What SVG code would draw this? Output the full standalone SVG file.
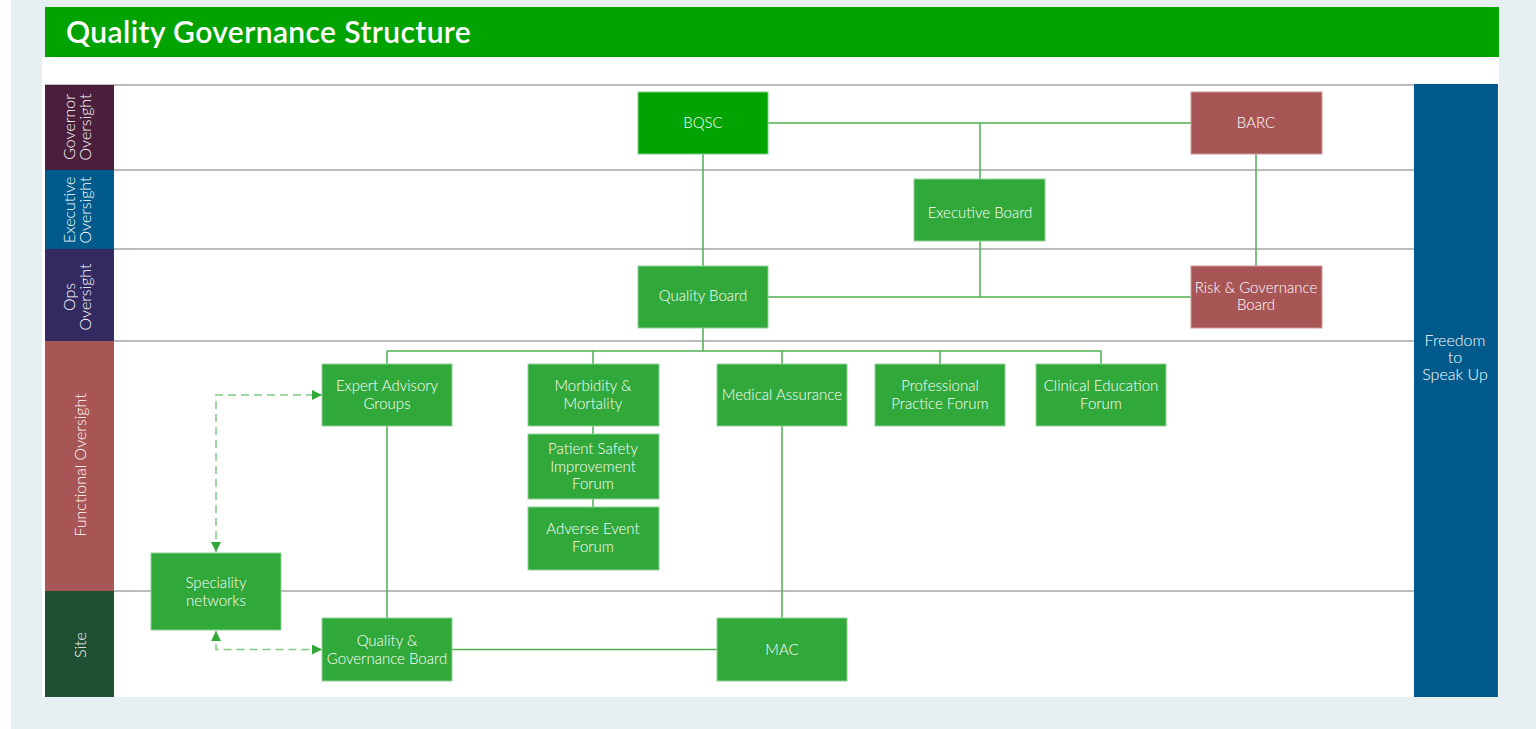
<svg xmlns="http://www.w3.org/2000/svg" width="1540" height="729" viewBox="0 0 1540 729">
<style>
.box{fill:#31A83A;stroke:#8FD296;stroke-width:1}
.bq{fill:#00A300;stroke:#7FCF86;stroke-width:1}
.red{fill:#A85556;stroke:#D09A9B;stroke-width:1}
.t{font-family:Lato,"Noto Sans","Liberation Sans",sans-serif;font-size:15px;font-weight:300;fill:#FFFFFF;text-anchor:middle}
.l{font-size:16px}
.lane{stroke:#A6A6A6;stroke-width:1.5;fill:none}
.con{stroke:#4CB052;stroke-width:1.5;fill:none}
.dash{stroke:#7DCB85;stroke-width:1.5;fill:none;stroke-dasharray:8 5}
</style>
<defs>
<marker id="ah" viewBox="0 0 10 10" refX="10" refY="5" markerWidth="10" markerHeight="10" markerUnits="userSpaceOnUse" orient="auto-start-reverse">
<path d="M0,0 L10,5 L0,10 Z" fill="#31A83A"/>
</marker>
</defs>
<rect x="0" y="0" width="1540" height="729" fill="#FFFFFF"/>
<rect x="11" y="0" width="1525" height="729" fill="#E6EFF1"/>
<rect x="42" y="57" width="1457" height="640" fill="#FFFFFF"/>
<g id="title">
<rect x="45" y="7" width="1454" height="50" fill="#00A300"/>
<text x="66" y="43" style="font-family:Lato,'Noto Sans','Liberation Sans',sans-serif;font-size:30px;font-weight:600;letter-spacing:0.4px;fill:#FFFFFF">Quality Governance Structure</text>
</g>
<g id="lane-lines">
<line class="lane" x1="45" y1="85" x2="1414" y2="85"/>
<line class="lane" x1="45" y1="170" x2="1414" y2="170"/>
<line class="lane" x1="45" y1="249" x2="1414" y2="249"/>
<line class="lane" x1="45" y1="341" x2="1414" y2="341"/>
<line class="lane" x1="45" y1="591" x2="1414" y2="591"/>
</g>
<g id="lane-governor">
<rect x="45" y="85" width="69" height="85" fill="#4B1E3C"/>
<text class="t l" transform="translate(75,127) rotate(-90)">Governor</text>
<text class="t l" transform="translate(91,127) rotate(-90)">Oversight</text>
</g>
<g id="lane-executive">
<rect x="45" y="170" width="69" height="79" fill="#005A8C"/>
<text class="t l" transform="translate(75,210) rotate(-90)">Executive</text>
<text class="t l" transform="translate(91,210) rotate(-90)">Oversight</text>
</g>
<g id="lane-ops">
<rect x="45" y="249" width="69" height="92" fill="#322A60"/>
<text class="t l" transform="translate(75,297) rotate(-90)">Ops</text>
<text class="t l" transform="translate(91,297) rotate(-90)">Oversight</text>
</g>
<g id="lane-functional">
<rect x="45" y="341" width="69" height="250" fill="#A85556"/>
<text class="t l" transform="translate(86,465) rotate(-90)">Functional Oversight</text>
</g>
<g id="lane-site">
<rect x="45" y="591" width="69" height="106" fill="#1F5032"/>
<text class="t l" transform="translate(86,645) rotate(-90)">Site</text>
</g>
<g id="freedom">
<rect x="1414" y="84" width="84" height="613" fill="#005A8C"/>
<text class="t l" x="1455" y="346">Freedom</text>
<text class="t l" x="1455" y="363">to</text>
<text class="t l" x="1455" y="380">Speak Up</text>
</g>
<g id="connectors">
<line class="con" x1="768" y1="123" x2="1191" y2="123"/>
<line class="con" x1="980" y1="123" x2="980" y2="179"/>
<line class="con" x1="703" y1="154" x2="703" y2="266"/>
<line class="con" x1="1256" y1="154" x2="1256" y2="266"/>
<line class="con" x1="768" y1="297" x2="1191" y2="297"/>
<line class="con" x1="980" y1="241" x2="980" y2="297"/>
<line class="con" x1="703" y1="328" x2="703" y2="351"/>
<line class="con" x1="387" y1="351" x2="1101" y2="351"/>
<line class="con" x1="387" y1="351" x2="387" y2="364"/>
<line class="con" x1="593" y1="351" x2="593" y2="364"/>
<line class="con" x1="782" y1="351" x2="782" y2="364"/>
<line class="con" x1="940" y1="351" x2="940" y2="364"/>
<line class="con" x1="1101" y1="351" x2="1101" y2="364"/>
<line class="con" x1="593" y1="426" x2="593" y2="434"/>
<line class="con" x1="593" y1="499" x2="593" y2="507"/>
<line class="con" x1="387" y1="426" x2="387" y2="618"/>
<line class="con" x1="782" y1="426" x2="782" y2="618"/>
<line class="con" x1="452" y1="649.5" x2="717" y2="649.5"/>
<path class="dash" d="M216,552 L216,395 L322,395" marker-start="url(#ah)" marker-end="url(#ah)"/>
<path class="dash" d="M216,631 L216,649.5 L322,649.5" marker-start="url(#ah)" marker-end="url(#ah)"/>
</g>
<g id="node-bqsc">
<rect class="bq" x="638" y="92" width="130" height="62"/>
<text class="t" x="703" y="128">BQSC</text>
</g>
<g id="node-barc">
<rect class="red" x="1191" y="92" width="131" height="62"/>
<text class="t" x="1256" y="128">BARC</text>
</g>
<g id="node-executive-board">
<rect class="box" x="914" y="179" width="131" height="62"/>
<text class="t" x="980" y="218">Executive Board</text>
</g>
<g id="node-quality-board">
<rect class="box" x="638" y="266" width="130" height="62"/>
<text class="t" x="703" y="301">Quality Board</text>
</g>
<g id="node-risk-governance">
<rect class="red" x="1191" y="266" width="131" height="62"/>
<text class="t" x="1256" y="293">Risk &amp; Governance</text>
<text class="t" x="1256" y="310">Board</text>
</g>
<g id="node-expert-advisory">
<rect class="box" x="322" y="364" width="130" height="62"/>
<text class="t" x="387" y="391">Expert Advisory</text>
<text class="t" x="387" y="409">Groups</text>
</g>
<g id="node-morbidity">
<rect class="box" x="528" y="364" width="131" height="62"/>
<text class="t" x="593" y="391">Morbidity &amp;</text>
<text class="t" x="593" y="409">Mortality</text>
</g>
<g id="node-patient-safety">
<rect class="box" x="528" y="434" width="131" height="65"/>
<text class="t" x="593" y="454">Patient Safety</text>
<text class="t" x="593" y="472">Improvement</text>
<text class="t" x="593" y="489">Forum</text>
</g>
<g id="node-adverse-event">
<rect class="box" x="528" y="507" width="131" height="63"/>
<text class="t" x="593" y="534">Adverse Event</text>
<text class="t" x="593" y="552">Forum</text>
</g>
<g id="node-medical-assurance">
<rect class="box" x="717" y="364" width="130" height="62"/>
<text class="t" x="782" y="400">Medical Assurance</text>
</g>
<g id="node-professional-practice">
<rect class="box" x="875" y="364" width="130" height="62"/>
<text class="t" x="940" y="391">Professional</text>
<text class="t" x="940" y="409">Practice Forum</text>
</g>
<g id="node-clinical-education">
<rect class="box" x="1036" y="364" width="130" height="62"/>
<text class="t" x="1101" y="391">Clinical Education</text>
<text class="t" x="1101" y="409">Forum</text>
</g>
<g id="node-speciality-networks">
<rect class="box" x="151" y="553" width="130" height="77"/>
<text class="t" x="216" y="588">Speciality</text>
<text class="t" x="216" y="606">networks</text>
</g>
<g id="node-quality-governance-board">
<rect class="box" x="322" y="618" width="130" height="63"/>
<text class="t" x="387" y="646">Quality &amp;</text>
<text class="t" x="387" y="664">Governance Board</text>
</g>
<g id="node-mac">
<rect class="box" x="717" y="618" width="130" height="63"/>
<text class="t" x="782" y="655">MAC</text>
</g>
</svg>
